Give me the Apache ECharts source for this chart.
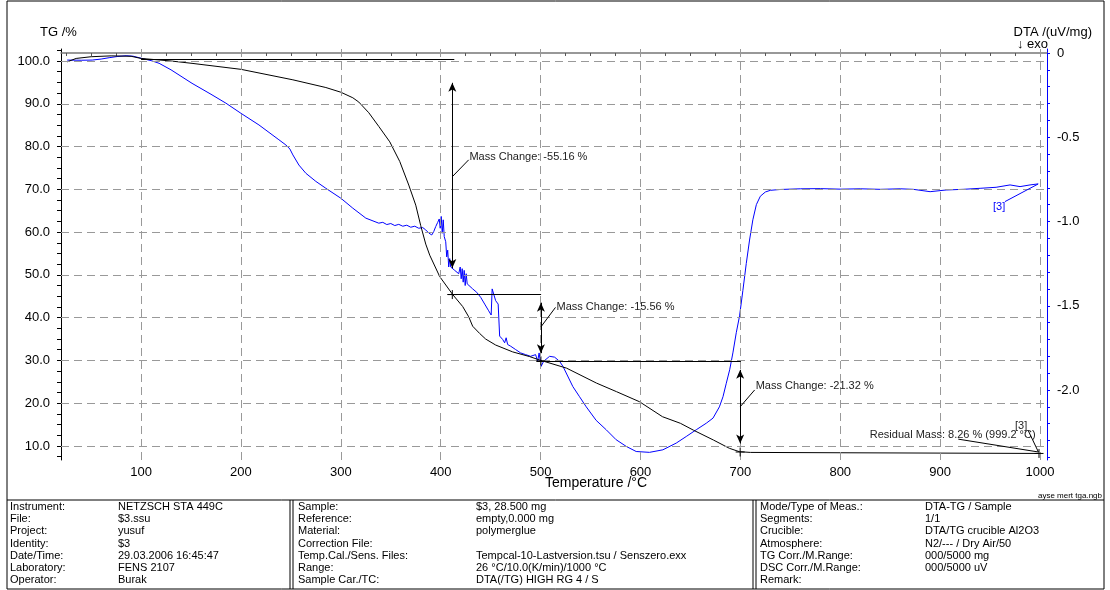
<!DOCTYPE html>
<html>
<head>
<meta charset="utf-8">
<title>DTA-TG $3</title>
<script src="https://cdn.jsdelivr.net/npm/echarts@6/dist/echarts.min.js"></script>
<style>
html, body { margin: 0; padding: 0; background: #fff; }
#chart { width: 1110px; height: 590px; }
</style>
</head>
<body>
<div id="chart"></div>
<script>
// TG curve (black), temperature in °C / mass in %
var tgTemp = [26, 35, 50, 70, 90, 100, 130, 151, 200, 252, 285, 300, 312, 318, 328, 338, 349, 359, 368, 375, 380, 385, 389,
    399, 412, 422, 428, 432, 439, 445, 455, 472, 489, 499, 526, 556, 576, 599, 622, 640, 653, 673, 689, 699, 710, 800, 900, 999];
var tgMass = [99.8, 100.6, 101.0, 101.2, 101.1, 100.6, 100.0, 99.45, 98.05, 95.6, 93.8, 92.7, 91.4, 90.4, 87.9, 84.7, 81.1, 76.5, 71.0, 66.3, 61.5, 57.2, 54.6,
    49.6, 45.4, 42.6, 40.2, 38.0, 36.3, 35.0, 33.6, 32.0, 30.9, 30.1, 28.2, 24.7, 22.7, 20.35, 16.85, 15.3, 13.7, 11.4, 9.46, 8.67, 8.5, 8.42, 8.34, 8.26];

// DTA curve (blue), uV/mg
var dtaTemp = [26, 40, 51, 60, 68, 76, 85, 92, 100, 111, 118, 130, 151, 170, 185, 200, 218, 238, 245, 249, 252, 258, 265, 275, 285, 300, 312, 325,
    338, 342, 346, 350, 354, 358, 362, 366, 370, 374, 378, 382, 385, 388, 391, 393, 395, 397, 398.5, 399.5, 400.5, 401.5, 402.5, 403.5,
    405, 406, 407, 408, 409, 410, 412, 414, 416, 418, 419.5, 420.5, 421.5, 422.5, 423.5, 424.5, 425.5, 426.5, 428, 432, 436, 440, 444, 448,
    450.5, 451.5, 453, 455, 457.5, 459, 462, 464, 465.5, 467, 470, 475, 480, 485, 490, 495, 497, 498.5, 500.5, 503, 509, 514, 519, 522.4,
    532.3, 539, 545.7, 555.6, 565.7, 575.6, 585.8, 595.7, 609, 622.4, 635.8, 645.8, 655.8, 665.9, 672.6, 679, 682.6, 685.9, 689.3, 692.5,
    695.9, 699.2, 702.5, 705.9, 709.2, 712.5, 716, 720, 725, 730, 740, 760, 780, 800, 820, 840, 860, 873, 890, 906, 923, 940, 956, 970, 980, 990, 998];
var dtaSignal = [-0.042, -0.043, -0.042, -0.036, -0.028, -0.021, -0.016, -0.019, -0.031, -0.047, -0.061, -0.10, -0.18, -0.245, -0.298, -0.358, -0.427, -0.515, -0.546, -0.57, -0.605, -0.665, -0.714, -0.762, -0.803, -0.862, -0.921, -0.980,
    -1.010, -1.005, -1.018, -1.012, -1.024, -1.017, -1.028, -1.022, -1.034, -1.028, -1.040, -1.036, -1.050, -1.068, -1.080, -1.060, -1.030, -1.005, -0.985, -1.04, -0.97, -1.07, -0.99, -1.09,
    -1.12, -1.21, -1.17, -1.27, -1.22, -1.27, -1.28, -1.29, -1.30, -1.31, -1.27, -1.34, -1.28, -1.36, -1.29, -1.38, -1.31, -1.37, -1.38, -1.40, -1.42, -1.45, -1.49, -1.53,
    -1.555, -1.40, -1.43, -1.47, -1.49, -1.68, -1.70, -1.72, -1.69, -1.73, -1.74, -1.76, -1.78, -1.79, -1.80, -1.79, -1.83, -1.78, -1.86, -1.83, -1.80, -1.805, -1.83, -1.86,
    -1.98, -2.04, -2.10, -2.18, -2.236, -2.295, -2.335, -2.365, -2.37, -2.355, -2.315, -2.276, -2.236, -2.197, -2.167, -2.10, -2.04, -1.96, -1.88, -1.78,
    -1.66, -1.56, -1.41, -1.25, -1.11, -0.99, -0.90, -0.85, -0.825, -0.815, -0.81, -0.806, -0.805, -0.808, -0.806, -0.809, -0.806, -0.809, -0.823, -0.813, -0.809, -0.803, -0.797, -0.783, -0.793, -0.783, -0.777];

// tick labels
var tempTicks = [100, 200, 300, 400, 500, 600, 700, 800, 900, 1000];
var tgTicks = [10, 20, 30, 40, 50, 60, 70, 80, 90, 100];
var dtaTicks = [0, -0.5, -1.0, -1.5, -2.0];

// evaluation marks drawn on the TG curve
var stepLines = [[[100, 100.46], [413.6, 100.46]], [[406.6, 45.4], [500.5, 45.4]], [[495.8, 29.9], [700.5, 29.9]]];
var stepArrows = [[[411.6, 94.9], [411.6, 51.6]], [[500.3, 43.5], [500.3, 31.7]], [[699.8, 27.8], [699.8, 10.6]]];
var stepLeaders = [[[411.6, 72.95], [428, 76.9]], [[500.5, 37.9], [514.9, 42.4]], [[699.9, 19.2], [714.3, 23.1]],
    [[918.2, 11.6], [998.4, 8.6]], [[988, 13.7], [998.4, 8.6]]];
var stepCrosses = [[411.6, 45.4], [500.3, 29.9], [699.8, 8.6], [999, 8.26]];
var stepLabels = [[428.7, 77.6, 'Mass Change: -55.16 %'], [515.9, 42.6, 'Mass Change: -15.56 %'], [715.3, 24.1, 'Mass Change: -21.32 %'],
    [829.6, 12.6, 'Residual Mass: 8.26 % (999.2 °C)'], [975, 14.7, '[3]']];
var dtaLeader = [[964.9, -0.882], [998.3, -0.777]];
var dtaLabel = [952.9, -0.911, '[3]'];

var infoRows = [
    ['Instrument:', 'NETZSCH STA 449C', 'Sample:', '$3, 28.500 mg', 'Mode/Type of Meas.:', 'DTA-TG / Sample'],
    ['File:', '$3.ssu', 'Reference:', 'empty,0.000 mg', 'Segments:', '1/1'],
    ['Project:', 'yusuf', 'Material:', 'polymerglue', 'Crucible:', 'DTA/TG crucible Al2O3'],
    ['Identity:', '$3', 'Correction File:', '', 'Atmosphere:', 'N2/--- / Dry Air/50'],
    ['Date/Time:', '29.03.2006 16:45:47', 'Temp.Cal./Sens. Files:', 'Tempcal-10-Lastversion.tsu / Senszero.exx', 'TG Corr./M.Range:', '000/5000 mg'],
    ['Laboratory:', 'FENS 2107', 'Range:', '26 °C/10.0(K/min)/1000 °C', 'DSC Corr./M.Range:', '000/5000 uV'],
    ['Operator:', 'Burak', 'Sample Car./TC:', 'DTA(/TG) HIGH RG 4 / S', 'Remark:', '']
];
var infoColX = [10, 118, 298, 476, 760, 925];

var FONT = 'Liberation Sans, Arial, sans-serif';

function pairs(xs, ys) {
    var out = [];
    for (var i = 0; i < xs.length; i++) out.push([xs[i], ys[i]]);
    return out;
}

function steps(from, to, step) {
    var out = [];
    for (var v = from; v <= to + 1e-9; v += step) out.push(Math.round(v * 100) / 100);
    return out;
}

var gridMarks = [];
tgTicks.forEach(function (v) { gridMarks.push({ yAxis: v }); });
tempTicks.forEach(function (v) { gridMarks.push({ xAxis: v }); });

var tgMarkLines = [];
stepLines.concat(stepLeaders).forEach(function (l) {
    tgMarkLines.push([{ coord: l[0] }, { coord: l[1] }]);
});
stepArrows.forEach(function (l) {
    tgMarkLines.push([{ coord: l[0], symbol: 'arrow' }, { coord: l[1], symbol: 'arrow' }]);
});

var tgMarkPoints = [];
stepCrosses.forEach(function (p) {
    tgMarkPoints.push({ coord: p, symbol: 'path://M0,5L10,5M5,0L5,10', symbolSize: 9,
        itemStyle: { color: 'none', borderColor: '#000', borderWidth: 1 }, label: { show: false } });
});
stepLabels.forEach(function (p) {
    tgMarkPoints.push({ coord: [p[0], p[1]], symbol: 'circle', symbolSize: 0,
        label: { show: true, position: 'right', distance: 0, formatter: p[2], color: '#222', fontSize: 11, fontFamily: FONT } });
});

var graphics = [
    { type: 'rect', shape: { x: 7, y: 1, width: 1097, height: 588 }, style: { fill: 'none', stroke: '#000', lineWidth: 1 }, silent: true },
    { type: 'line', shape: { x1: 7, y1: 500, x2: 1104, y2: 500 }, style: { stroke: '#000', lineWidth: 1 } },
    { type: 'line', shape: { x1: 290, y1: 500, x2: 290, y2: 589 }, style: { stroke: '#000', lineWidth: 1 } },
    { type: 'line', shape: { x1: 293, y1: 500, x2: 293, y2: 589 }, style: { stroke: '#000', lineWidth: 1 } },
    { type: 'line', shape: { x1: 753, y1: 500, x2: 753, y2: 589 }, style: { stroke: '#000', lineWidth: 1 } },
    { type: 'line', shape: { x1: 756, y1: 500, x2: 756, y2: 589 }, style: { stroke: '#000', lineWidth: 1 } },
    { type: 'text', x: 40, y: 32, style: { text: 'TG /%', font: '13px ' + FONT, fill: '#000', textVerticalAlign: 'middle', verticalAlign: 'middle' } },
    { type: 'text', x: 1092, y: 32, style: { text: 'DTA /(uV/mg)', font: '13px ' + FONT, fill: '#000', textAlign: 'right', align: 'right', textVerticalAlign: 'middle', verticalAlign: 'middle' } },
    { type: 'text', x: 1048, y: 44, style: { text: '↓ exo', font: '13px ' + FONT, fill: '#000', textAlign: 'right', align: 'right', textVerticalAlign: 'middle', verticalAlign: 'middle' } },
    { type: 'text', x: 596, y: 483, style: { text: 'Temperature /°C', font: '14px ' + FONT, fill: '#000', textAlign: 'center', align: 'center', textVerticalAlign: 'middle', verticalAlign: 'middle' } },
    { type: 'text', x: 1102, y: 496, style: { text: 'ayse mert tga.ngb', font: '8px ' + FONT, fill: '#000', textAlign: 'right', align: 'right', textVerticalAlign: 'middle', verticalAlign: 'middle' } }
];
infoRows.forEach(function (row, r) {
    row.forEach(function (cell, c) {
        if (!cell) return;
        graphics.push({ type: 'text', x: infoColX[c], y: 507 + r * 12.2,
            style: { text: cell, font: '11px ' + FONT, fill: '#000', textVerticalAlign: 'middle', verticalAlign: 'middle' } });
    });
});

var chart = echarts.init(document.getElementById('chart'));

var option = {
    animation: false,
    textStyle: { fontFamily: FONT },
    grid: { left: 61, right: 63, top: 49, bottom: 130 },
    graphic: graphics,
    xAxis: {
        type: 'value', min: 19.82, max: 1007,
        axisLine: { show: true, lineStyle: { color: '#777', width: 1.5 } },
        axisTick: { show: true, length: 3, customValues: steps(25, 1000, 25), lineStyle: { color: '#555' } },
        axisLabel: { customValues: tempTicks, color: '#000', fontSize: 13, margin: 6,
            formatter: function (v) { return String(v); } },
        splitLine: { show: false }
    },
    yAxis: [{
        type: 'value', min: 6.727, max: 102.805,
        axisLine: { show: true, onZero: false, lineStyle: { color: '#000', width: 1 } },
        axisTick: { show: true, length: 4, customValues: steps(7.5, 102.5, 2.5), lineStyle: { color: '#000' } },
        axisLabel: { customValues: tgTicks, color: '#000', fontSize: 13, margin: 11,
            formatter: function (v) { return v.toFixed(1); } },
        splitLine: { show: false }
    }, {
        type: 'value', min: -2.4154, max: 0.0237, position: 'right',
        axisLine: { show: true, onZero: false, lineStyle: { color: '#0000ff', width: 1 } },
        axisTick: { show: true, length: 3, customValues: steps(-2.4, 0, 0.1), lineStyle: { color: '#0000ff' } },
        axisLabel: { customValues: dtaTicks, color: '#000', fontSize: 13, margin: 10,
            formatter: function (v) { return v === 0 ? '0' : v.toFixed(1); } },
        splitLine: { show: false }
    }],
    series: [{
        name: 'grid', type: 'line', data: [], yAxisIndex: 0, silent: true,
        markLine: {
            silent: true, symbol: 'none', label: { show: false },
            lineStyle: { color: '#999', type: [8, 5], width: 1 },
            data: gridMarks
        }
    }, {
        name: 'DTA', type: 'line', yAxisIndex: 1, showSymbol: false, symbol: 'none',
        lineStyle: { color: '#0000ff', width: 1 }, itemStyle: { color: '#0000ff' },
        data: pairs(dtaTemp, dtaSignal),
        markLine: {
            silent: true, symbol: 'none', label: { show: false },
            lineStyle: { color: '#0000ff', type: 'solid', width: 1 },
            data: [[{ coord: dtaLeader[0] }, { coord: dtaLeader[1] }]]
        },
        markPoint: {
            silent: true,
            data: [{ coord: [dtaLabel[0], dtaLabel[1]], symbol: 'circle', symbolSize: 0,
                label: { show: true, position: 'right', distance: 0, formatter: dtaLabel[2], color: '#0000ff', fontSize: 11, fontFamily: FONT } }]
        }
    }, {
        name: 'TG', type: 'line', yAxisIndex: 0, showSymbol: false, symbol: 'none',
        lineStyle: { color: '#000', width: 1 }, itemStyle: { color: '#000' },
        data: pairs(tgTemp, tgMass),
        markLine: {
            silent: true, symbol: 'none', symbolSize: [6, 9], label: { show: false },
            lineStyle: { color: '#000', type: 'solid', width: 1 },
            data: tgMarkLines
        },
        markPoint: { silent: true, data: tgMarkPoints }
    }]
};

chart.setOption(option);
</script>
</body>
</html>
